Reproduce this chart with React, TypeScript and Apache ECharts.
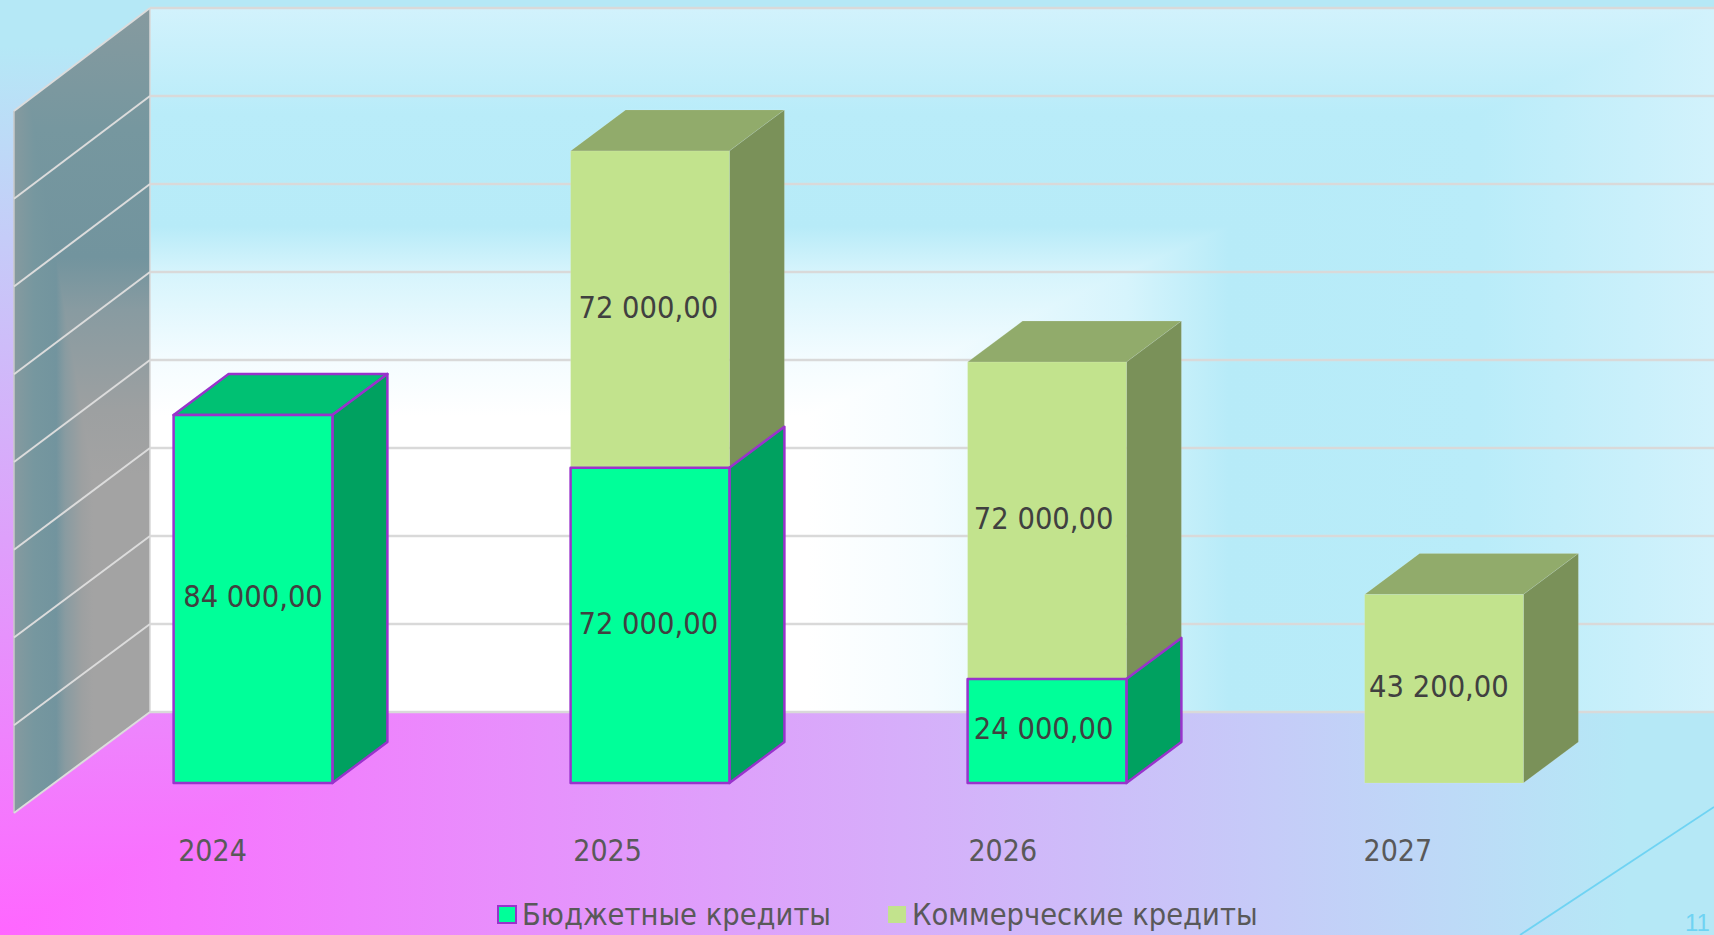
import React, { useEffect, useRef } from "react";
import * as echarts from "echarts";

const years = ["2024", "2025", "2026", "2027"];
const budgetName = "Бюджетные кредиты";
const commercialName = "Коммерческие кредиты";
const budgetValues: (number | null)[] = [84000, 72000, 24000, null];
const commercialValues: (number | null)[] = [null, 72000, 72000, 43200];
const yTicks = [0, 20000, 40000, 60000, 80000, 100000, 120000, 140000, 160000];
const pageNumber = "11";

const W = 1714;
const H = 935;
const FONT = "'DejaVu Sans Condensed', 'DejaVu Sans', sans-serif";
const GRID = { left: 14, width: 1588, bottom: 122, height: 704 };
const WALL_DX = 136;
const WALL_DY = 101;
const BAR_OFF_X = 40.5;
const BAR_OFF_Y = 30;
const BAR_DX = 55;
const BAR_DY = 41;
const LABEL_DRIFT = 1.9;

const grad = (x0: number, y0: number, x1: number, y1: number, stops: [number, string][]) =>
  new echarts.graphic.LinearGradient(
    x0, y0, x1, y1,
    stops.map(([offset, color]) => ({ offset, color })),
    true
  );

const pageStops: [number, string][] = [[0, "#ff66ff"], [0.95, "#b5e8f6"], [1, "#b5e8f6"]];
const wallStops: [number, string][] = [
  [0, "#ffffff"], [0.42, "#ffffff"], [0.5, "#f4fcff"], [0.625, "#d6f4fc"], [0.69, "#b7ebf8"], [0.85, "#b9ecf9"], [1, "#d2f2fc"],
];
const sideStops: [number, string][] = [
  [0, "#a3a3a3"], [0.42, "#a3a3a3"], [0.5, "#9da0a1"], [0.625, "#889ba1"], [0.69, "#72949e"], [0.85, "#76979f"], [1, "#869a9f"],
];

function barRenderer(values: (number | null)[], base: (number | null)[], front: string, side: string, top: string, stroke: string | null, hasAbove: (number | null)[] | null) {
  return (params: any, api: any) => {
    const i = api.value(0);
    const v = values[i];
    if (v == null) return null;
    const b = base[i] || 0;
    const w = api.size([1, 0])[0] * 0.4;
    const lo = api.coord([i, b]);
    const hi = api.coord([i, b + v]);
    const x0 = lo[0] - w / 2 + BAR_OFF_X;
    const x1 = x0 + w;
    const yb = lo[1] - BAR_OFF_Y + (b > 0 ? 1.5 : 0);
    const yt = hi[1] - BAR_OFF_Y + 1.5;
    const st = stroke
      ? { stroke, lineWidth: 2.5, lineJoin: "round" }
      : { stroke: "rgba(255,255,255,0.12)", lineWidth: 1 };
    const children: any[] = [];
    const above = hasAbove ? hasAbove[i] : null;
    if (above == null) {
      children.push({
        type: "polygon",
        shape: { points: [[x0, yt], [x1, yt], [x1 + BAR_DX, yt - BAR_DY], [x0 + BAR_DX, yt - BAR_DY]] },
        style: { fill: top, ...st },
      });
    }
    children.push({
      type: "polygon",
      shape: { points: [[x1, yt], [x1 + BAR_DX, yt - BAR_DY], [x1 + BAR_DX, yb - BAR_DY], [x1, yb]] },
      style: { fill: side, ...st },
    });
    children.push({
      type: "polygon",
      shape: { points: [[x0, yt], [x1, yt], [x1, yb], [x0, yb]] },
      style: { fill: front, ...st },
    });
    const text = Math.floor(v / 1000) + " " + String(v % 1000).padStart(3, "0") + ",00";
    children.push({
      type: "text",
      x: (x0 + x1) / 2 - i * 1.7,
      y: (yt + yb) / 2 - 2,
      style: {
        text,
        fill: "#404040",
        fontSize: 30.5,
        fontFamily: FONT,
        textAlign: "center",
        textVerticalAlign: "middle",
        verticalAlign: "middle",
      },
    });
    return { type: "group", children };
  };
}

function wallLineRenderer(params: any, api: any) {
  const v = api.value(1);
  const y = api.coord([0, v])[1];
  const x = params.coordSys.x;
  return {
    type: "group",
    children: [
      {
        type: "polyline",
        shape: { points: [[x, y + (2 * v) / 160000], [x + WALL_DX, y - WALL_DY]] },
        style: { stroke: "#dcdcdc", lineWidth: 2, fill: "none" },
      },
      {
        type: "line",
        shape: { x1: x + WALL_DX, y1: y - WALL_DY, x2: W, y2: y - WALL_DY },
        style: { stroke: "#d9d9d9", lineWidth: 2.5 },
      },
    ],
  };
}

export default function App() {
  const ref = useRef<HTMLDivElement>(null);
  useEffect(() => {
    document.body.style.margin = "0";
    document.body.style.overflow = "hidden";
    const chart = echarts.init(ref.current!, null, { renderer: "svg" });

    const wx0 = GRID.left + WALL_DX;
    const front0 = H - GRID.bottom;
    const back0 = front0 - WALL_DY;
    const backTop = back0 - GRID.height;
    const frontTop = front0 - GRID.height + 2;

    const diag = (yEdge0: number, slope: number) => {
      const k = (front0 - backTop) / WALL_DX;
      const s = (yEdge0 - backTop) / (k + slope);
      return [GRID.left + s, backTop + k * s];
    };
    const cutTop = diag(frontTop, (frontTop - backTop) / WALL_DX);
    const cutBot = diag(front0, WALL_DY / WALL_DX);

    chart.setOption({
      animation: false,
      backgroundColor: "transparent",
      graphic: {
        elements: [
          { type: "rect", z: -20, shape: { x: 0, y: 0, width: W, height: H }, style: { fill: grad(0, 0, W, 0, pageStops) } },
          { type: "polygon", z: -19, shape: { points: [[0, H], [0, 0], [W, 0]] }, style: { fill: grad(0, H, 0, 0, pageStops) } },
          { type: "rect", z: -18, shape: { x: wx0, y: backTop, width: W - wx0, height: back0 - backTop }, style: { fill: grad(wx0, 0, W, 0, wallStops) } },
          { type: "polygon", z: -17, shape: { points: [[wx0, back0], [wx0, backTop], [W, backTop]] }, style: { fill: grad(0, back0, 0, backTop, wallStops) } },
          { type: "polygon", z: -16, shape: { points: [[GRID.left, frontTop], [wx0, backTop], [wx0, back0], [GRID.left, front0]] }, style: { fill: grad(wx0, 0, GRID.left, 0, sideStops) } },
          { type: "polygon", z: -15, shape: { points: [cutTop, [wx0, backTop], [wx0, back0], cutBot] }, style: { fill: grad(0, front0, 0, backTop, sideStops) } },
          { type: "line", z: -14, shape: { x1: GRID.left, y1: frontTop, x2: GRID.left, y2: front0 }, style: { stroke: "#c8c8c8", lineWidth: 1.5 } },
          { type: "line", z: -14, shape: { x1: wx0, y1: backTop, x2: wx0, y2: back0 }, style: { stroke: "#d9d9d9", lineWidth: 1.5 } },
          { type: "line", z: -14, shape: { x1: 1520, y1: H, x2: W, y2: 807 }, style: { stroke: "#6fd3f3", lineWidth: 1.8 } },
          { type: "text", z: 10, x: 1685, y: 910, style: { text: pageNumber, fill: "#6fd3f3", fontSize: 24, fontFamily: "'Liberation Sans', sans-serif" } },
        ],
      },
      grid: { ...GRID, containLabel: false },
      xAxis: {
        type: "category",
        data: years.map((y, i) => ({
          value: y,
          textStyle: { padding: [0, 2 * LABEL_DRIFT * i, 0, 0] },
        })),
        axisLine: { show: false },
        axisTick: { show: false },
        splitLine: { show: false },
        axisLabel: { color: "#595959", fontSize: 30, fontFamily: FONT, margin: 22 },
      },
      yAxis: {
        type: "value",
        min: 0,
        max: 160000,
        interval: 20000,
        axisLine: { show: false },
        axisTick: { show: false },
        axisLabel: { show: false },
        splitLine: { show: false },
      },
      legend: {
        data: [budgetName, commercialName],
        left: 492,
        top: 894,
        icon: "rect",
        itemWidth: 18,
        itemHeight: 17,
        itemGap: 57,
        textStyle: { color: "#595959", fontSize: 30.5, fontFamily: FONT, padding: [0, 0, 0, 1] },
      },
      series: [
        {
          type: "custom",
          name: "gridlines",
          z: 1,
          silent: true,
          renderItem: wallLineRenderer,
          encode: { x: 0, y: 1 },
          data: yTicks.map((t) => [0, t]),
        },
        {
          type: "custom",
          name: budgetName,
          z: 4,
          silent: true,
          itemStyle: { color: "#00ff99", borderColor: "#9933cc", borderWidth: 2.5 },
          renderItem: barRenderer(budgetValues, [null, null, null, null], "#00ff99", "#00a160", "#00c173", "#9933cc", commercialValues),
          encode: { x: 0, y: 1 },
          data: years.map((_, i) => [i, budgetValues[i] ?? 0]),
        },
        {
          type: "custom",
          name: commercialName,
          z: 3,
          silent: true,
          itemStyle: { color: "#c2e38d" },
          renderItem: barRenderer(commercialValues, budgetValues, "#c2e38d", "#7a9159", "#91ab6b", null, null),
          encode: { x: 0, y: 1 },
          data: years.map((_, i) => [i, commercialValues[i] ?? 0]),
        },
      ],
    });
    return () => chart.dispose();
  }, []);
  return <div ref={ref} style={{ width: W, height: H }} />;
}
